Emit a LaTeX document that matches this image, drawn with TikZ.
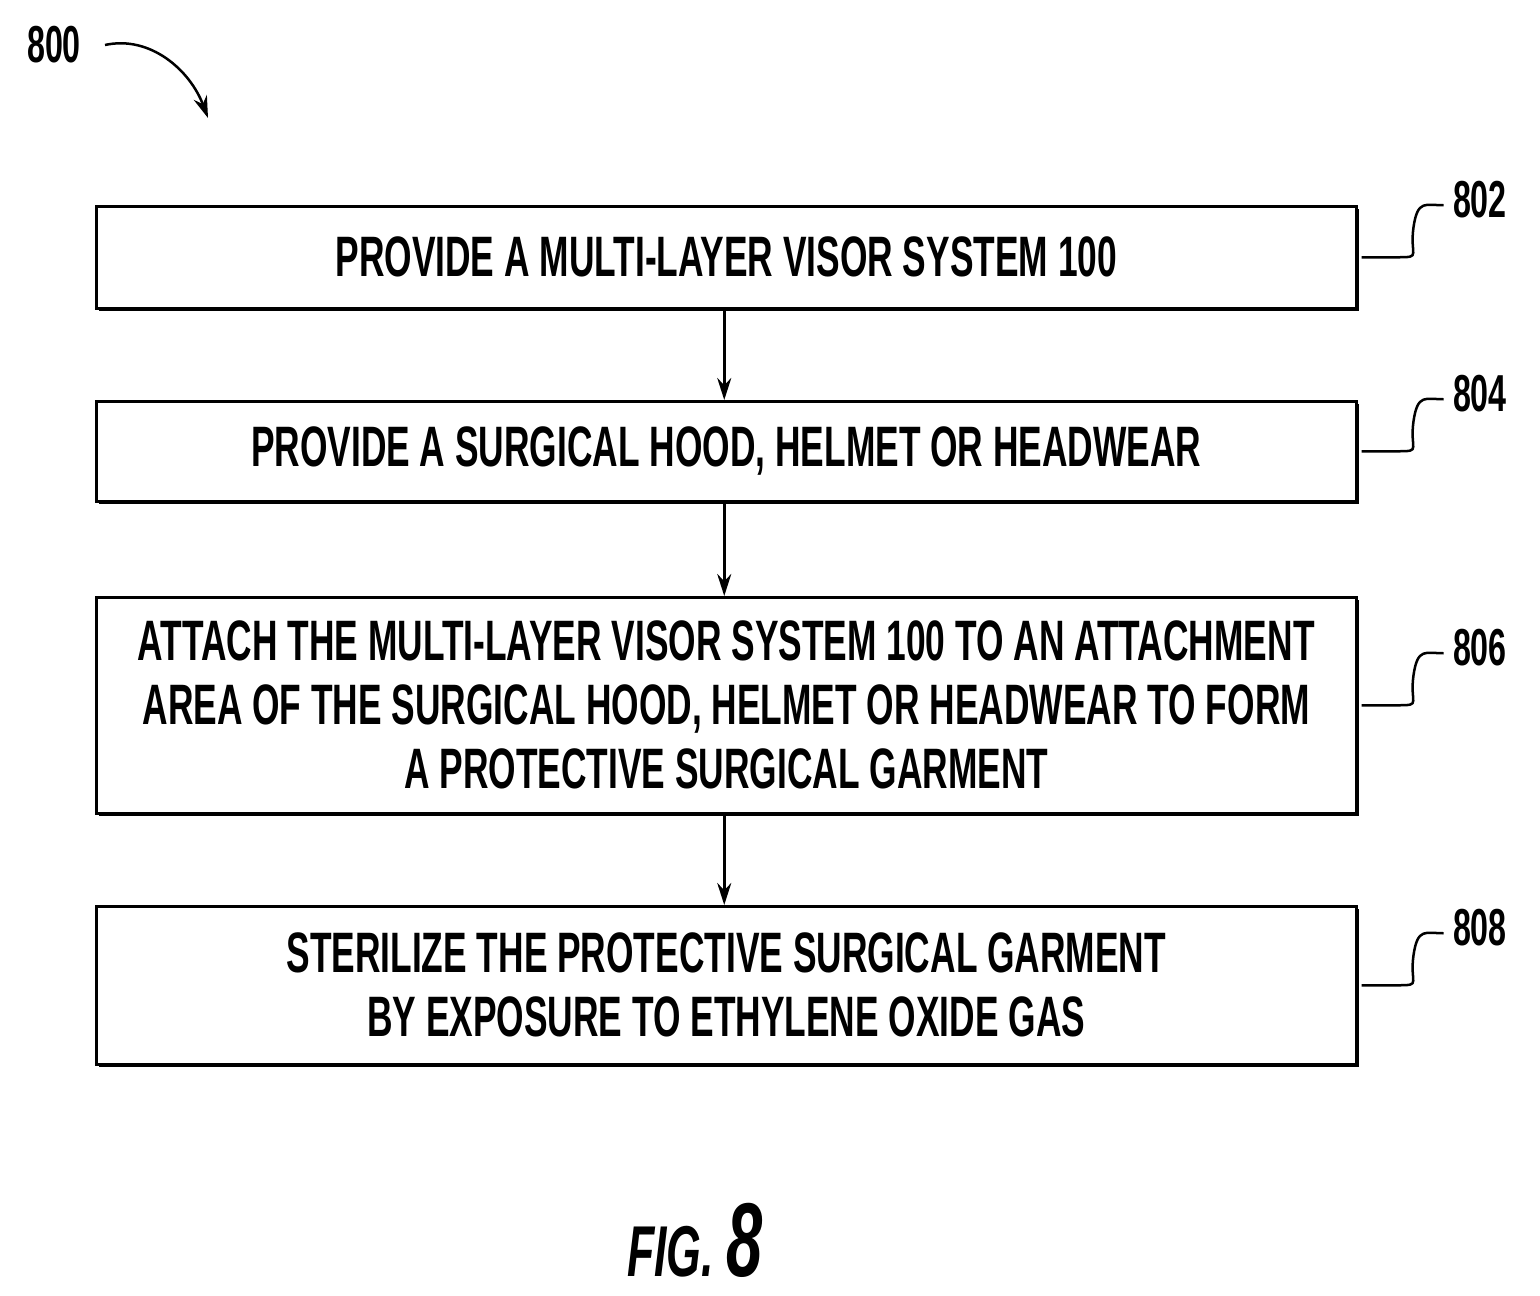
\documentclass[tikz,border=0pt]{standalone}
\usepackage{fontspec}
\setmainfont{Liberation Sans}[FakeStretch=0.62,BoldFont={* Bold}]
\usetikzlibrary{arrows.meta}
\begin{document}
\begin{tikzpicture}[x=1pt,y=-1pt,
  box/.style={draw,line width=2.5pt,fill=white,inner sep=0pt,font=\fontsize{57}{64}\selectfont\bfseries,align=center},
  ref/.style={font=\fontsize{52}{56}\selectfont\bfseries},
  arr/.style={line width=2.5pt,-{Stealth[length=22pt,width=14pt]}},
  lead/.style={line width=2.5pt}]
\useasboundingbox (0,0) rectangle (1540,1296);
\foreach \y/\h in {205/102,400/100,596/216,905/158}{
  \fill (99,\y+4) rectangle (1359,\y+\h+4);
}
\node[box,minimum width=1260pt,minimum height=102pt,anchor=north west] (b1) at (95,205) {PROVIDE A MULTI-LAYER VISOR SYSTEM 100};
\node[box,minimum width=1260pt,minimum height=100pt,anchor=north west] (b2) at (95,400) {PROVIDE A SURGICAL HOOD, HELMET OR HEADWEAR};
\node[box,minimum width=1260pt,minimum height=216pt,anchor=north west] (b3) at (95,596) {ATTACH THE MULTI-LAYER VISOR SYSTEM 100 TO AN ATTACHMENT\\AREA OF THE SURGICAL HOOD, HELMET OR HEADWEAR TO FORM\\A PROTECTIVE SURGICAL GARMENT};
\node[box,minimum width=1260pt,minimum height=158pt,anchor=north west] (b4) at (95,905) {STERILIZE THE PROTECTIVE SURGICAL GARMENT\\BY EXPOSURE TO ETHYLENE OXIDE GAS};
\draw[arr] ([xshift=-2pt]b1.south) -- ([xshift=-2pt]b2.north);
\draw[arr] ([xshift=-2pt]b2.south) -- ([xshift=-2pt]b3.north);
\draw[arr] ([xshift=-2pt]b3.south) -- ([xshift=-2pt]b4.north);
\foreach \n/\t in {b1/802,b2/804,b3/806,b4/808}{
  \node[ref,anchor=west] (r\t) at ([xshift=92pt,yshift=58pt]\n.east) {\t};
  \draw[lead] ([xshift=4pt]\n.east) -- ++(38,0) .. controls ++(22,0) and ++(-4,28) .. ++(14,-30)
     .. controls ++(4,-28) and ++(-18,0) .. ([xshift=-6pt,yshift=-6pt]r\t.west);
}
\node[ref] (r800) at (54,45) {800};
\coordinate (e800) at (208,118);
\draw[line width=2.5pt,-{Stealth[length=22pt,width=14pt]}] (105,45) .. controls (150,35) and (190,70) .. (e800);
\node[font=\fontsize{72}{74}\selectfont\bfseries\itshape] (fig) at (695,1240) {FIG. \fontsize{105}{105}\selectfont 8};
\end{tikzpicture}
\end{document}
